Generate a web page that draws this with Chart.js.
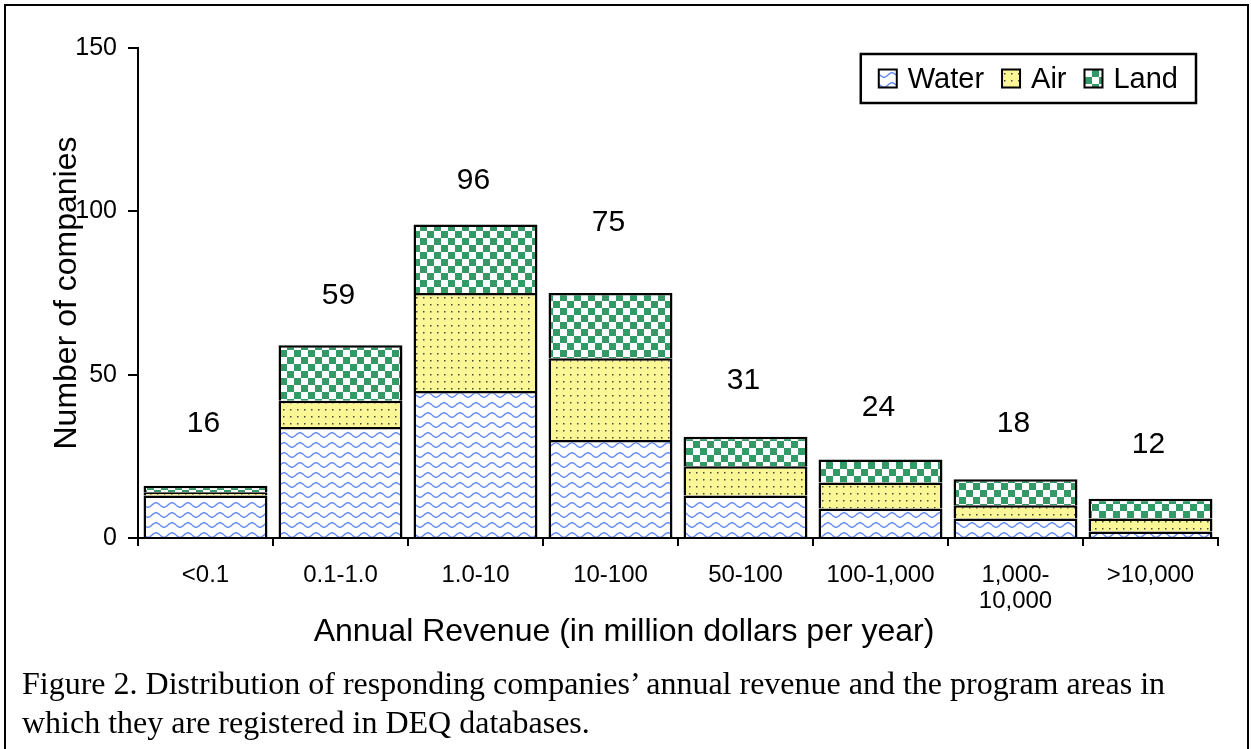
<!DOCTYPE html>
<html><head><meta charset="utf-8">
<script src="https://cdn.jsdelivr.net/npm/chart.js@4.4.1/dist/chart.umd.min.js"></script>
<style>
html,body{margin:0;padding:0;background:#fff;}
#wrap{position:relative;width:1251px;height:749px;overflow:hidden;background:#fff;}
#c{position:absolute;left:0;top:0;}
#frame{position:absolute;left:4px;top:4px;width:1241px;height:800px;border:2px solid #000;pointer-events:none;}
#caption{position:absolute;left:22px;top:664px;font-family:'Liberation Serif','Times New Roman',serif;font-size:32px;line-height:39px;color:#000;white-space:nowrap;}
</style></head>
<body>
<div id="wrap">
<canvas id="c" width="1251" height="749"></canvas>
<div id="frame"></div>
<div id="caption">Figure 2. Distribution of responding companies’ annual revenue and the program areas in<br>which they are registered in DEQ databases.</div>
</div>
<script>
// ---- data ----
const categories = ['<0.1', '0.1-1.0', '1.0-10', '10-100', '50-100', '100-1,000', ['1,000-', '10,000'], '>10,000'];
const waterValues = [13, 34, 45, 30, 13, 9, 6, 2];
const airValues   = [1, 8, 30, 25, 9, 8, 4, 4];
const landValues  = [2, 17, 21, 20, 9, 7, 8, 6];
const totals      = [16, 59, 96, 75, 31, 24, 18, 12];
const yTickValues = [0, 50, 100, 150];
const seriesNames = ['Water', 'Air', 'Land'];
const xTitle = 'Annual Revenue (in million dollars per year)';
const yTitle = 'Number of companies';

const FONT = "'Liberation Sans', Arial, sans-serif";

// ---- patterns ----
function makeWater() {
  const c = document.createElement('canvas'); c.width = 16; c.height = 10;
  const g = c.getContext('2d');
  g.fillStyle = '#fff'; g.fillRect(0, 0, 16, 10);
  g.strokeStyle = '#6a8ef5'; g.lineWidth = 1.5;
  g.beginPath();
  for (let x = 0; x <= 16; x += 0.5) {
    const y = 5 + 2.2 * Math.sin(x / 16 * 2 * Math.PI);
    if (x === 0) g.moveTo(x, y); else g.lineTo(x, y);
  }
  g.stroke();
  return g.createPattern(c, 'repeat');
}
function makeAir() {
  const c = document.createElement('canvas'); c.width = 7; c.height = 7;
  const g = c.getContext('2d');
  g.fillStyle = '#fbf796'; g.fillRect(0, 0, 7, 7);
  g.fillStyle = '#4a4a3a'; g.fillRect(3, 3, 1.5, 1.5);
  return g.createPattern(c, 'repeat');
}
function makeLand() {
  const c = document.createElement('canvas'); c.width = 14; c.height = 14;
  const g = c.getContext('2d');
  g.fillStyle = '#fff'; g.fillRect(0, 0, 14, 14);
  g.fillStyle = '#339966'; g.fillRect(0, 0, 7, 7); g.fillRect(7, 7, 7, 7);
  return g.createPattern(c, 'repeat');
}
const fills = [makeWater(), makeAir(), makeLand()];

// ---- plugins ----
const totalsPlugin = {
  id: 'totalsLabels',
  afterDatasetsDraw(chart, args, o) {
    const ctx = chart.ctx;
    const meta = chart.getDatasetMeta(chart.data.datasets.length - 1);
    ctx.save();
    ctx.font = o.fontSize + 'px ' + FONT;
    ctx.fillStyle = '#000'; ctx.textAlign = 'center'; ctx.textBaseline = 'middle';
    meta.data.forEach((el, i) => {
      ctx.fillText(String(totals[i]), el.x + o.dx, el.y - o.offsets[i]);
    });
    ctx.restore();
  }
};
const boxLegend = {
  id: 'boxLegend',
  afterDraw(chart, args, o) {
    const ctx = chart.ctx;
    ctx.save();
    ctx.font = o.fontSize + 'px ' + FONT;
    const items = chart.data.datasets.map(ds => ({ text: ds.label, fill: ds.backgroundColor, w: ctx.measureText(ds.label).width }));
    let total = o.padX * 2;
    items.forEach((it, i) => { total += o.box + o.gapText + it.w + (i < items.length - 1 ? o.gapItem : 0); });
    const left = o.right - total, top = o.top, h = o.bottom - o.top, cy = top + h / 2;
    ctx.fillStyle = '#fff'; ctx.fillRect(left, top, total, h);
    ctx.lineWidth = 2.5; ctx.strokeStyle = '#000'; ctx.strokeRect(left, top, total, h);
    let x = left + o.padX;
    items.forEach(it => {
      ctx.fillStyle = it.fill; ctx.fillRect(x, cy - o.box / 2, o.box, o.box);
      ctx.lineWidth = 2; ctx.strokeStyle = '#000'; ctx.strokeRect(x, cy - o.box / 2, o.box, o.box);
      x += o.box + o.gapText;
      ctx.fillStyle = '#000'; ctx.textAlign = 'left'; ctx.textBaseline = 'middle';
      ctx.fillText(it.text, x, cy + 1);
      x += it.w + o.gapItem;
    });
    ctx.restore();
  }
};
const xTitlePlugin = {
  id: 'xTitleText',
  afterDraw(chart, args, o) {
    const ctx = chart.ctx;
    ctx.save();
    ctx.font = o.fontSize + 'px ' + FONT;
    ctx.fillStyle = '#000'; ctx.textAlign = 'center'; ctx.textBaseline = 'middle';
    ctx.fillText(o.text, o.x, o.y);
    ctx.restore();
  }
};

const dataSeries = [waterValues, airValues, landValues];
new Chart(document.getElementById('c'), {
  type: 'bar',
  data: {
    labels: categories,
    datasets: seriesNames.map((name, i) => ({
      label: name,
      data: dataSeries[i],
      backgroundColor: fills[i],
      borderColor: '#000',
      borderWidth: 2.5
    }))
  },
  options: {
    responsive: false,
    animation: false,
    devicePixelRatio: 1,
    events: [],
    layout: { padding: { left: 0, top: 48, right: 33, bottom: 0 } },
    datasets: { bar: { barPercentage: 0.918, categoryPercentage: 1 } },
    plugins: {
      legend: { display: false },
      tooltip: { enabled: false },
      totalsLabels: { fontSize: 30, dx: -2, offsets: [62, 50, 44, 70, 56, 52, 55, 54] },
      boxLegend: { right: 1196, top: 54, bottom: 103, padX: 18, box: 18, gapText: 11, gapItem: 18, fontSize: 29 },
      xTitleText: { text: xTitle, x: 624, y: 632, fontSize: 32 }
    },
    scales: {
      x: {
        stacked: true,
        grid: { display: true, drawOnChartArea: false, drawTicks: true, tickLength: 8, color: '#000', lineWidth: 2, offset: true },
        border: { display: true, color: '#000', width: 2 },
        ticks: { color: '#000', font: { family: FONT, size: 24, lineHeight: 1.08 }, padding: 16, maxRotation: 0, autoSkip: false },
        afterFit: s => { s.height = 211; }
      },
      y: {
        stacked: true, min: 0, max: 150,
        afterBuildTicks: s => { s.ticks = yTickValues.map(v => ({ value: v })); },
        ticks: { color: '#000', font: { family: FONT, size: 25 }, padding: 11 },
        grid: { display: true, drawOnChartArea: false, drawTicks: true, tickLength: 10, color: '#000', lineWidth: 2 },
        border: { display: true, color: '#000', width: 2 },
        title: { display: true, text: yTitle, color: '#000', font: { family: FONT, size: 32, lineHeight: 1.2 }, padding: { top: 48, bottom: 0 } },
        afterFit: s => { s.width = 138; }
      }
    }
  },
  plugins: [totalsPlugin, boxLegend, xTitlePlugin]
});
</script>
</body></html>
